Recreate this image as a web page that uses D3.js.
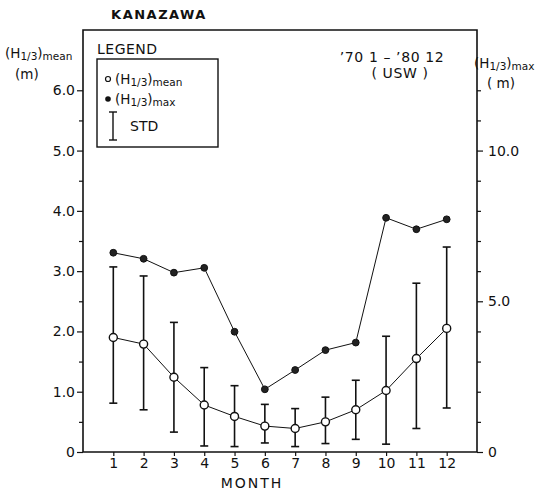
<!DOCTYPE html>
<html>
<head>
<meta charset="utf-8">
<script src="https://cdn.jsdelivr.net/npm/d3@7"></script>
<style>
  body { margin: 0; background: #fff; }
  svg { display: block; }
  text { font-family: "DejaVu Sans", "Liberation Sans", sans-serif; fill: #111; }
</style>
</head>
<body>
<svg id="chart" width="543" height="493"></svg>
<script>
// ---- data ----
const months   = [1, 2, 3, 4, 5, 6, 7, 8, 9, 10, 11, 12];
const meanH    = [1.90, 1.79, 1.24, 0.78, 0.59, 0.43, 0.39, 0.50, 0.70, 1.02, 1.55, 2.05]; // left axis (m)
const maxH     = [6.61, 6.41, 5.95, 6.11, 3.99, 2.08, 2.72, 3.38, 3.63, 7.77, 7.39, 7.72]; // right axis (m)
const stdLow   = [0.81, 0.70, 0.33, 0.10, 0.09, 0.15, 0.09, 0.14, 0.21, 0.13, 0.39, 0.73];
const stdHigh  = [3.07, 2.92, 2.15, 1.40, 1.10, 0.79, 0.72, 0.91, 1.19, 1.92, 2.80, 3.40];
const leftTicks   = [0, 1, 2, 3, 4, 5, 6];
const leftMinor   = [0.5, 1.5, 2.5, 3.5, 4.5, 5.5];
const rightTicks  = [0, 5, 10];
const rightMinor  = [1, 2, 3, 4, 6, 7, 8, 9, 11, 12];

const svg = d3.select("#chart");
const L = 83, R = 477, T = 30, B = 452;

const x  = d3.scaleLinear().domain([0, 13]).range([L, R]);
const yL = d3.scaleLinear().domain([0, 7]).range([B, T]);
const yR = d3.scaleLinear().domain([0, 14]).range([B, T]);

// frame
svg.append("path")
  .attr("d", `M${L},${B}V${T}H${R}V${B}Z`)
  .attr("fill", "none").attr("stroke", "#111").attr("stroke-width", 1.6);

// left axis
const gL = svg.append("g").attr("transform", `translate(${L},0)`)
  .call(d3.axisLeft(yL).tickValues(leftTicks).tickSize(6).tickPadding(2)
        .tickFormat(d => d === 0 ? "0" : d.toFixed(1)));
gL.append("g").call(d3.axisLeft(yL).tickValues(leftMinor).tickSize(4).tickFormat(""));
svg.selectAll(".domain").remove();

// right axis
const gR = svg.append("g").attr("transform", `translate(${R},0)`)
  .call(d3.axisRight(yR).tickValues(rightTicks).tickSize(6).tickPadding(5)
        .tickFormat(d => d === 0 ? "0" : d.toFixed(1)));
gR.append("g").call(d3.axisRight(yR).tickValues(rightMinor).tickSize(4).tickFormat(""));

// bottom axis
const gB = svg.append("g").attr("transform", `translate(0,${B})`)
  .call(d3.axisBottom(x).tickValues(months).tickSize(4).tickPadding(2).tickFormat(d => d));
svg.selectAll(".domain").remove();
svg.selectAll(".tick line").attr("stroke", "#111").attr("stroke-width", 1.2);
svg.selectAll(".tick text").attr("font-size", 14).attr("fill", "#111")
   .style("font-family", "DejaVu Sans, sans-serif");

// error bars (STD)
const eb = svg.append("g").attr("stroke", "#111").attr("stroke-width", 1.6);
months.forEach((m, i) => {
  const cx = x(m);
  eb.append("line").attr("x1", cx).attr("x2", cx).attr("y1", yL(stdLow[i])).attr("y2", yL(stdHigh[i]));
  eb.append("line").attr("x1", cx - 4).attr("x2", cx + 4).attr("y1", yL(stdLow[i])).attr("y2", yL(stdLow[i]));
  eb.append("line").attr("x1", cx - 4).attr("x2", cx + 4).attr("y1", yL(stdHigh[i])).attr("y2", yL(stdHigh[i]));
});

// max line (right axis)
svg.append("path").datum(months)
  .attr("d", d3.line().x(m => x(m)).y((m, i) => yR(maxH[i])))
  .attr("fill", "none").attr("stroke", "#111").attr("stroke-width", 1);
svg.append("g").selectAll("circle").data(months).join("circle")
  .attr("cx", m => x(m)).attr("cy", (m, i) => yR(maxH[i])).attr("r", 3.4)
  .attr("fill", "#222").attr("stroke", "#111").attr("stroke-width", 1);

// mean line (left axis)
svg.append("path").datum(months)
  .attr("d", d3.line().x(m => x(m)).y((m, i) => yL(meanH[i])))
  .attr("fill", "none").attr("stroke", "#111").attr("stroke-width", 1);
svg.append("g").selectAll("circle").data(months).join("circle")
  .attr("cx", m => x(m)).attr("cy", (m, i) => yL(meanH[i])).attr("r", 4)
  .attr("fill", "#fff").attr("stroke", "#111").attr("stroke-width", 1.4);

// texts
svg.append("text").attr("x", 159).attr("y", 19).attr("text-anchor", "middle")
  .attr("font-size", 13).attr("font-weight", "bold").attr("letter-spacing", 1.5).text("KANAZAWA");

function hLabel(g, xx, yy, sub, big, small) {
  const t = g.append("text").attr("x", xx).attr("y", yy).attr("font-size", big);
  t.append("tspan").text("(H");
  t.append("tspan").attr("font-size", small).attr("dy", 2).text("1/3");
  t.append("tspan").attr("dy", -2).text(")");
  t.append("tspan").attr("font-size", small).attr("dy", 2).text(sub);
  return t;
}
hLabel(svg, 5, 58, "mean", 13.5, 10.5);
svg.append("text").attr("x", 15).attr("y", 79).attr("font-size", 13.5).text("(m)");
hLabel(svg, 474, 68, "max", 13.5, 10.5);
svg.append("text").attr("x", 487).attr("y", 88).attr("font-size", 13.5).text("( m)");

svg.append("text").attr("x", 392).attr("y", 62).attr("text-anchor", "middle").attr("font-size", 14)
  .attr("letter-spacing", 0.6).text("’70  1 – ’80  12");
svg.append("text").attr("x", 400).attr("y", 78).attr("text-anchor", "middle").attr("font-size", 14)
  .attr("letter-spacing", 0.6).text("( USW )");

// legend
svg.append("text").attr("x", 97).attr("y", 54).attr("font-size", 14).attr("letter-spacing", 0.5).text("LEGEND");
svg.append("rect").attr("x", 97).attr("y", 59).attr("width", 121).attr("height", 88)
  .attr("fill", "none").attr("stroke", "#111").attr("stroke-width", 1.4);
svg.append("circle").attr("cx", 108).attr("cy", 79).attr("r", 2.5)
  .attr("fill", "#fff").attr("stroke", "#111").attr("stroke-width", 1.2);
hLabel(svg, 115, 84, "mean", 13.5, 10.5);
svg.append("circle").attr("cx", 108).attr("cy", 99).attr("r", 2.8).attr("fill", "#111");
hLabel(svg, 115, 104, "max", 13.5, 10.5);
const lg = svg.append("g").attr("stroke", "#111").attr("stroke-width", 1.4);
lg.append("line").attr("x1", 113).attr("x2", 113).attr("y1", 112).attr("y2", 140);
lg.append("line").attr("x1", 109).attr("x2", 117).attr("y1", 112).attr("y2", 112);
lg.append("line").attr("x1", 109).attr("x2", 117).attr("y1", 140).attr("y2", 140);
svg.append("text").attr("x", 130).attr("y", 131).attr("font-size", 14).text("STD");

svg.append("text").attr("x", 252).attr("y", 488).attr("text-anchor", "middle")
  .attr("font-size", 14).attr("letter-spacing", 2).text("MONTH");
</script>
</body>
</html>
